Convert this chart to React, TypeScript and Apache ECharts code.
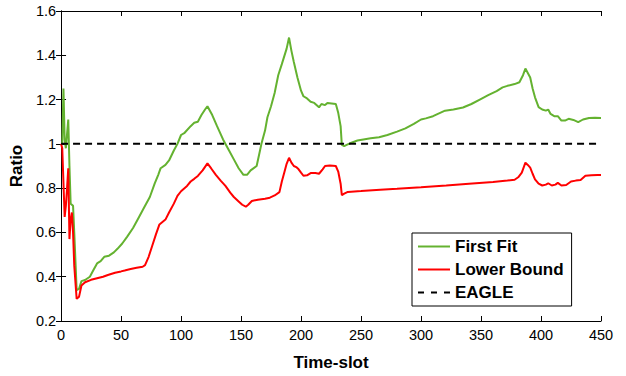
import React, { useEffect, useRef } from "react";
import * as echarts from "echarts";

// First Fit ratio per time-slot
const ffTime = [
  0, 1, 2, 3, 4, 6, 7, 8, 10, 11, 13, 15, 17, 20, 24, 27, 30, 33, 36, 40, 44, 47, 51, 55, 60, 65, 69, 74, 78, 81,
  83, 87, 90, 94, 97, 100, 103, 108, 111, 114, 117, 120, 122, 126, 130, 135, 140, 144, 148, 152, 155, 158, 163,
  165, 167, 170, 172, 175, 178, 181, 184, 188, 190, 192, 194, 197, 200, 202, 205, 208, 211, 215, 217, 220, 222,
  229, 231, 233, 234, 236, 238, 242, 247, 252, 258, 265, 272, 280, 287, 294, 300, 304, 310, 315, 320, 327, 335,
  342, 349, 356, 363, 368, 372, 378, 382, 385, 387, 389, 391, 393, 395, 398, 401, 404, 406, 408, 411, 414, 417,
  420, 423, 427, 431, 435, 440, 445, 450,
];
const ffRatio = [
  1.0, 1.0, 1.25, 1.02, 0.98, 1.11, 0.9, 0.73, 0.72, 0.6, 0.34, 0.345, 0.38, 0.385, 0.4, 0.43, 0.46, 0.47, 0.49,
  0.495, 0.51, 0.526, 0.55, 0.58, 0.62, 0.67, 0.71, 0.76, 0.82, 0.86, 0.89, 0.905, 0.925, 0.97, 1.0, 1.04, 1.05,
  1.08, 1.095, 1.1, 1.13, 1.155, 1.17, 1.13, 1.08, 1.02, 0.97, 0.93, 0.89, 0.86, 0.86, 0.88, 0.9, 0.95, 1.0,
  1.06, 1.12, 1.17, 1.23, 1.31, 1.36, 1.43, 1.48, 1.42, 1.37, 1.3, 1.24, 1.215, 1.205, 1.19, 1.185, 1.165, 1.18,
  1.175, 1.185, 1.18, 1.14, 1.08, 0.995, 0.99, 0.995, 1.005, 1.015, 1.02, 1.025, 1.03, 1.04, 1.055, 1.07, 1.09,
  1.11, 1.115, 1.125, 1.138, 1.15, 1.155, 1.164, 1.18, 1.2, 1.22, 1.238, 1.255, 1.262, 1.27, 1.278, 1.31, 1.34,
  1.32, 1.3, 1.25, 1.21, 1.166, 1.155, 1.15, 1.155, 1.135, 1.125, 1.125, 1.105, 1.105, 1.113, 1.108, 1.098, 1.11,
  1.117, 1.118, 1.117,
];

// Lower Bound ratio per time-slot
const lbTime = [
  0, 1, 3, 4, 5, 6, 7, 8, 9, 10, 11, 13, 15, 17, 20, 25, 30, 35, 39, 45, 50, 53, 58, 63, 68, 70, 73, 76, 79, 82,
  87, 90, 94, 97, 100, 105, 108, 111, 114, 118, 122, 125, 129, 133, 137, 141, 144, 148, 151, 154, 156, 159, 164,
  170, 174, 178, 182, 184, 186, 188, 190, 192, 194, 196, 198, 200, 202, 205, 208, 212, 215, 218, 220, 224, 229,
  231, 233, 234, 236, 239, 250, 266, 280, 300, 321, 340, 360, 372, 378, 381, 384, 387, 389, 391, 393, 395, 398,
  401, 404, 406, 409, 412, 414, 417, 421, 425, 429, 433, 437, 442, 447, 450,
];
const lbRatio = [
  1.0, 0.98, 0.67, 0.72, 0.8, 0.89, 0.57, 0.66, 0.69, 0.6, 0.45, 0.3, 0.31, 0.36, 0.375, 0.386, 0.393, 0.4, 0.408,
  0.418, 0.424, 0.428, 0.435, 0.44, 0.445, 0.452, 0.49, 0.54, 0.59, 0.636, 0.658, 0.69, 0.73, 0.765, 0.786, 0.81,
  0.83, 0.842, 0.855, 0.88, 0.912, 0.89, 0.86, 0.834, 0.81, 0.78, 0.76, 0.74, 0.725, 0.716, 0.725, 0.742, 0.748,
  0.752, 0.757, 0.767, 0.782, 0.83, 0.87, 0.91, 0.937, 0.915, 0.9, 0.895, 0.885, 0.87, 0.856, 0.858, 0.868, 0.868,
  0.865, 0.885, 0.9, 0.902, 0.9, 0.875, 0.82, 0.768, 0.775, 0.783, 0.787, 0.793, 0.797, 0.804, 0.812, 0.82, 0.828,
  0.834, 0.838, 0.849, 0.87, 0.915, 0.905, 0.893, 0.865, 0.84, 0.82, 0.812, 0.816, 0.822, 0.812, 0.816, 0.824,
  0.812, 0.814, 0.83, 0.834, 0.837, 0.856, 0.858, 0.859, 0.859,
];

// EAGLE reference level
const eagleTime = [0, 450];
const eagleRatio = [1, 1];

const xTicks = { min: 0, max: 450, interval: 50 };
const yTicks = { min: 0.2, max: 1.6, interval: 0.2 };

const FONT = "'Liberation Sans', Arial, Helvetica, sans-serif";

// Legend keys: a solid stroke and a three-dash stroke
const SOLID_KEY = "path://M0,0h32v2h-32z";
const DASHED_KEY = "path://M0,0h6v2h-6zM13,0h6v2h-6zM26,0h6v2h-6z";

const zip = (xs: number[], ys: number[]) => xs.map((x, i) => [x, ys[i]]);

export default function App() {
  const ref = useRef<HTMLDivElement>(null);

  useEffect(() => {
    if (!ref.current) return;
    const chart = echarts.init(ref.current, undefined, { renderer: "svg" });

    const axisLine = { show: true, lineStyle: { color: "#000", width: 1 } };
    const tick = { show: true, inside: true, length: 5, lineStyle: { color: "#000" } };
    const label = { color: "#000", fontFamily: FONT, fontSize: 14.5 };
    const nameStyle = { color: "#000", fontFamily: FONT, fontSize: 17, fontWeight: "bold" as const };

    chart.setOption({
      animation: false,
      backgroundColor: "#fff",
      grid: { left: 60, right: 25, top: 11, bottom: 47, containLabel: false },
      legend: {
        left: 412,
        top: 233,
        orient: "vertical",
        backgroundColor: "#fff",
        borderColor: "#000",
        borderWidth: 1,
        borderRadius: 0,
        padding: [5, 8, 5, 6],
        itemGap: 6,
        itemWidth: 32,
        itemHeight: 2,
        textStyle: { color: "#000", fontFamily: FONT, fontSize: 17, fontWeight: "bold" },
        data: [
          { name: "First Fit", icon: SOLID_KEY },
          { name: "Lower Bound", icon: SOLID_KEY },
          { name: "EAGLE", icon: DASHED_KEY },
        ],
      },
      xAxis: [
        {
          type: "value",
          position: "bottom",
          ...xTicks,
          name: "Time-slot",
          nameLocation: "middle",
          nameGap: 33,
          nameTextStyle: nameStyle,
          axisLine,
          axisTick: tick,
          axisLabel: { ...label, margin: 6 },
          splitLine: { show: false },
        },
        {
          type: "value",
          position: "top",
          ...xTicks,
          axisLine,
          axisTick: tick,
          axisLabel: { show: false },
          splitLine: { show: false },
        },
      ],
      yAxis: [
        {
          type: "value",
          position: "left",
          ...yTicks,
          name: "Ratio",
          nameLocation: "middle",
          nameGap: 29,
          nameTextStyle: nameStyle,
          axisLine,
          axisTick: tick,
          axisLabel: { ...label, margin: 5 },
          splitLine: { show: false },
        },
        {
          type: "value",
          position: "right",
          ...yTicks,
          axisLine,
          axisTick: tick,
          axisLabel: { show: false },
          splitLine: { show: false },
        },
      ],
      series: [
        {
          name: "First Fit",
          type: "line",
          data: zip(ffTime, ffRatio),
          symbol: "none",
          color: "#64b230",
          lineStyle: { color: "#64b230", width: 2 },
          z: 3,
        },
        {
          name: "Lower Bound",
          type: "line",
          data: zip(lbTime, lbRatio),
          symbol: "none",
          color: "#ff0000",
          lineStyle: { color: "#ff0000", width: 2 },
          z: 4,
        },
        {
          name: "EAGLE",
          type: "line",
          data: zip(eagleTime, eagleRatio),
          symbol: "none",
          color: "#000",
          lineStyle: { color: "#000", width: 2, type: [7, 5] },
          z: 5,
        },
      ],
    });

    return () => chart.dispose();
  }, []);

  return <div ref={ref} style={{ position: "fixed", left: 0, top: 0, width: 626, height: 376 }} />;
}
